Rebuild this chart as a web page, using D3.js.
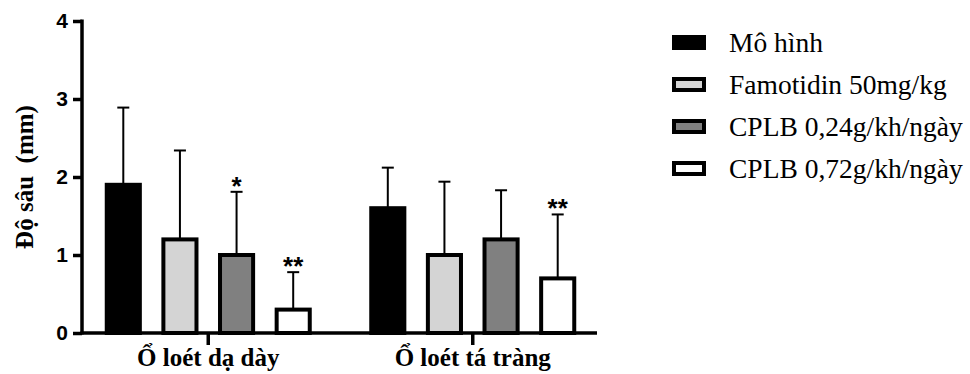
<!DOCTYPE html>
<html>
<head>
<meta charset="utf-8">
<script src="https://cdn.jsdelivr.net/npm/d3@7"></script>
<style>
  body { margin: 0; background: #fff; }
</style>
</head>
<body>
<div id="chart"></div>
<script>
// Data
const groups = ["Ổ loét dạ dày", "Ổ loét tá tràng"];
const series = ["Mô hình", "Famotidin 50mg/kg", "CPLB 0,24g/kh/ngày", "CPLB 0,72g/kh/ngày"];
const colors = ["#000000", "#d4d4d4", "#808080", "#ffffff"];
const means = [[1.9, 1.2, 1.0, 0.3], [1.6, 1.0, 1.2, 0.7]];
const upper = [[2.89, 2.34, 1.81, 0.78], [2.12, 1.94, 1.83, 1.52]];
const stars = [["", "", "*", "**"], ["", "", "", "**"]];
const yTicks = [0, 1, 2, 3, 4];

const width = 970, height = 374;
const serif = "'Liberation Serif', 'Times New Roman', serif";
const sans = "'Liberation Sans', Arial, sans-serif";

const svg = d3.select("#chart")
    .append("svg")
    .attr("width", width)
    .attr("height", height);

// Scales
const y = d3.scaleLinear().domain([0, 4]).range([333, 21]);
const x0 = d3.scaleBand().domain(groups).range([76, 605]);
const x1 = d3.scaleBand().domain(series).range([-103.5, 103.5]).paddingInner(0.345);
const color = d3.scaleOrdinal().domain(series).range(colors);

// Bars
const g = svg.selectAll(".group")
    .data(groups)
    .enter().append("g")
    .attr("class", "group")
    .attr("transform", d => "translate(" + (x0(d) + x0.bandwidth() / 2) + ",0)");

g.each(function(grp, gi) {
    const sel = d3.select(this);
    series.forEach((s, si) => {
        const bx = x1(s) + 2, bw = x1.bandwidth() - 4;
        const cx = x1(s) + x1.bandwidth() / 2;
        // error bar
        sel.append("line")
            .attr("x1", cx).attr("x2", cx)
            .attr("y1", y(means[gi][si])).attr("y2", y(upper[gi][si]))
            .attr("stroke", "#000").attr("stroke-width", 2);
        sel.append("line")
            .attr("x1", cx - 6).attr("x2", cx + 6)
            .attr("y1", y(upper[gi][si])).attr("y2", y(upper[gi][si]))
            .attr("stroke", "#000").attr("stroke-width", 2);
        sel.append("rect")
            .attr("x", bx)
            .attr("width", bw)
            .attr("y", y(means[gi][si]))
            .attr("height", y(0) - y(means[gi][si]))
            .attr("fill", color(s))
            .attr("stroke", "#000")
            .attr("stroke-width", 4);
        if (stars[gi][si]) {
            sel.append("text")
                .attr("x", cx)
                .attr("y", y(upper[gi][si]) + 3)
                .attr("text-anchor", "middle")
                .style("font-family", sans)
                .style("font-weight", "bold")
                .style("font-size", "26px")
                .text(stars[gi][si]);
        }
    });
});

// Axes
const yAxis = svg.append("g")
    .attr("transform", "translate(82,0)")
    .call(d3.axisLeft(y).tickValues(yTicks).tickFormat(d3.format("d")).tickSize(9).tickSizeOuter(0).tickPadding(5));

const xAxis = svg.append("g")
    .attr("transform", "translate(0,333)")
    .call(d3.axisBottom(x0).tickSize(12).tickSizeOuter(0).tickFormat(""));
xAxis.select(".domain").attr("d", "M80.5,0H597");

svg.selectAll(".domain, .tick line").attr("stroke", "#000").attr("stroke-width", 3.5);
yAxis.select(".domain").attr("d", "M0,19.5V334.5");
yAxis.selectAll(".tick text")
    .style("font-family", sans)
    .style("font-weight", "bold")
    .style("font-size", "21px")
    .attr("fill", "#000");

// Category labels
svg.selectAll(".cat")
    .data(groups)
    .enter().append("text")
    .attr("class", "cat")
    .attr("x", d => x0(d) + x0.bandwidth() / 2)
    .attr("y", 366)
    .attr("text-anchor", "middle")
    .style("font-family", serif)
    .style("font-weight", "bold")
    .style("font-size", "25px")
    .text(d => d);

// Y title
svg.append("text")
    .attr("transform", "translate(33,177) rotate(-90)")
    .attr("text-anchor", "middle")
    .style("font-family", serif)
    .style("font-weight", "bold")
    .style("font-size", "25px")
    .style("white-space", "pre")
    .text("Độ sâu  (mm)");

// Legend
const legend = svg.selectAll(".legend")
    .data(series)
    .enter().append("g")
    .attr("class", "legend")
    .attr("transform", (d, i) => "translate(674," + (37 + i * 42) + ")");

legend.append("rect")
    .attr("width", 30)
    .attr("height", 11)
    .attr("fill", d => color(d))
    .attr("stroke", "#000")
    .attr("stroke-width", 4);

legend.append("text")
    .attr("x", 55)
    .attr("y", 15)
    .style("font-family", serif)
    .style("font-size", "27.5px")
    .text(d => d);
</script>
</body>
</html>
